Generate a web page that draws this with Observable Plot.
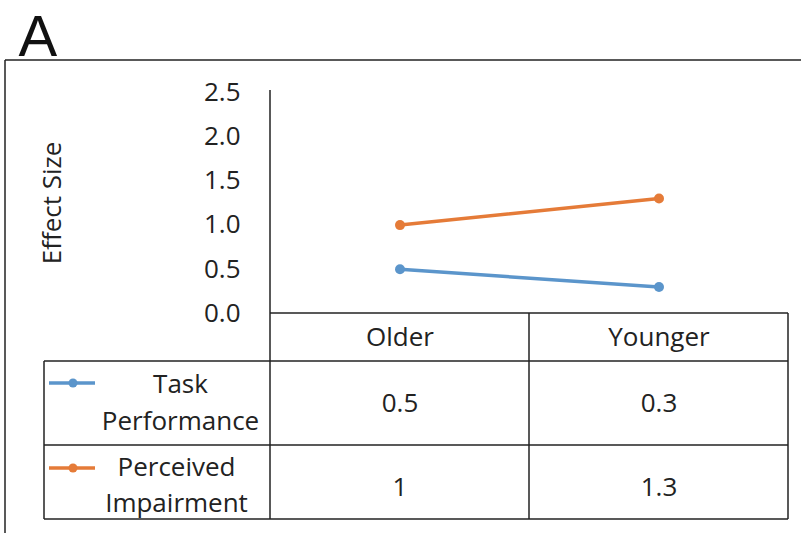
<!DOCTYPE html>
<html>
<head>
<meta charset="utf-8">
<script src="https://cdn.jsdelivr.net/npm/d3@7"></script>
<script src="https://cdn.jsdelivr.net/npm/@observablehq/plot@0.6"></script>
<style>
  html, body { margin: 0; padding: 0; background: #fff; }
  #chart { width: 801px; height: 533px; overflow: hidden; }
</style>
</head>
<body>
<div id="chart"></div>
<script>
// ---- data ----
const categories = ["Older", "Younger"];
const seriesNames = ["Task Performance", "Perceived Impairment"];
const taskPerformance = [0.5, 0.3];
const perceivedImpairment = [1, 1.3];
const yTicks = [0, 0.5, 1, 1.5, 2, 2.5];
const panelLabel = "A";
const yLabel = "Effect Size";
const seriesColors = ["#5b95cb", "#e57b38"];

const seriesValues = [taskPerformance, perceivedImpairment];
const data = seriesNames.flatMap((s, i) =>
  categories.map((c, j) => ({series: s, cat: c, value: seriesValues[i][j]}))
);

const ink = "#222222";
const font = "'Open Sans', sans-serif";

const plot = Plot.plot({
  width: 801,
  height: 533,
  marginLeft: 269,
  marginRight: 13,
  marginTop: 92,
  marginBottom: 220,
  style: {fontFamily: font, fontSize: "26px", color: ink, background: "#fff"},
  x: {type: "band", domain: categories, padding: 0, axis: null},
  y: {domain: [0, 2.5]},
  color: {domain: seriesNames, range: seriesColors},
  marks: [
    Plot.axisY({ticks: yTicks, tickFormat: d3.format(".1f"), tickSize: 0, tickPadding: 29, label: null, fill: ink}),
    Plot.text([yLabel], {frameAnchor: "left", rotate: -90, dx: -217, textAnchor: "middle", lineAnchor: "middle", fill: ink}),
    Plot.text([panelLabel], {frameAnchor: "top-left", dx: -251, dy: -37, lineAnchor: "bottom", textAnchor: "start",
      fontFamily: "'Liberation Sans', Arial, sans-serif", fontSize: 58, fill: "#111"}),
    Plot.line(data, {x: "cat", y: "value", z: "series", stroke: "series", strokeWidth: 3.5}),
    Plot.dot(data, {x: "cat", y: "value", fill: "series", r: 5}),
    // data table text
    Plot.text(categories, {x: d => d, text: d => d, frameAnchor: "bottom", lineAnchor: "middle", dy: 24, fill: ink}),
    Plot.text(data.filter(d => d.series === seriesNames[0]), {x: "cat", text: d => String(d.value), frameAnchor: "bottom", lineAnchor: "middle", dy: 90, fill: ink}),
    Plot.text(data.filter(d => d.series === seriesNames[1]), {x: "cat", text: d => String(d.value), frameAnchor: "bottom", lineAnchor: "middle", dy: 174, fill: ink}),
    Plot.text([seriesNames[0]], {text: d => d.replace(" ", "\n"), frameAnchor: "bottom-left", textAnchor: "middle", lineAnchor: "middle", dx: -89, dy: 86, lineHeight: 1.45, fill: ink}),
    Plot.text([seriesNames[1]], {text: d => d.replace(" ", "\n"), frameAnchor: "bottom-left", textAnchor: "middle", lineAnchor: "middle", dx: -93, dy: 169, lineHeight: 1.4, fill: ink})
  ]
});

document.getElementById("chart").appendChild(plot);

// ---- chart border and data-table grid, placed from the plot's scales ----
const xs = plot.scale("x");
const ys = plot.scale("y");
const colorScale = plot.scale("color");
const colL = xs.apply(categories[0]);
const colM = xs.apply(categories[1]);
const colR = colM + xs.bandwidth;
const y0 = ys.apply(0);
const yTop = ys.apply(2.5);
const tableLeft = 44;
const headerBottom = y0 + 48;
const row1Bottom = y0 + 132;
const row2Bottom = y0 + 206;

const svg = d3.select(plot);
const g = svg.append("g").attr("stroke", "#222").attr("stroke-width", 1.5).attr("fill", "none");
const seg = (x1, y1, x2, y2) => g.append("line").attr("x1", x1).attr("y1", y1).attr("x2", x2).attr("y2", y2);

// outer chart border
seg(5, 60, 801, 60);
seg(5, 60, 5, 533);
// value axis line (continues into the table)
seg(colL, yTop - 2, colL, row2Bottom);
// table horizontal lines
seg(colL, y0, colR, y0);
seg(tableLeft, headerBottom, colR, headerBottom);
seg(tableLeft, row1Bottom, colR, row1Bottom);
seg(tableLeft, row2Bottom, colR, row2Bottom);
// table vertical lines
seg(tableLeft, headerBottom, tableLeft, row2Bottom);
seg(colM, y0, colM, row2Bottom);
seg(colR, y0, colR, row2Bottom);

// legend keys in the table
const keyY = [headerBottom + 22, row1Bottom + 23];
seriesNames.forEach((s, i) => {
  const c = colorScale.apply(s);
  svg.append("line").attr("x1", 49).attr("x2", 95).attr("y1", keyY[i]).attr("y2", keyY[i])
    .attr("stroke", c).attr("stroke-width", 3.5);
  svg.append("circle").attr("cx", 73).attr("cy", keyY[i]).attr("r", 4.5).attr("fill", c);
});
</script>
</body>
</html>
